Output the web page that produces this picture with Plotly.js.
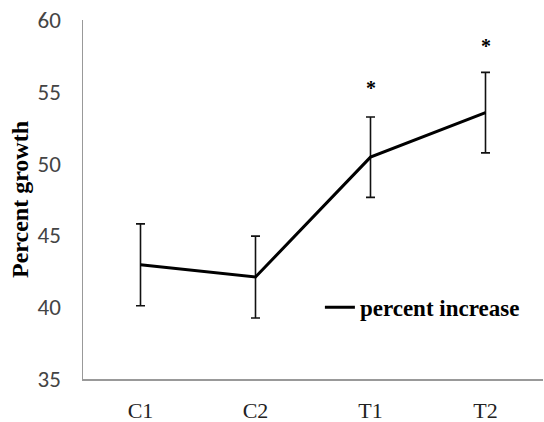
<!DOCTYPE html>
<html>
<head>
<meta charset="utf-8">
<script src="https://cdn.plot.ly/plotly-3.0.1.min.js"></script>
<style>html,body{margin:0;padding:0;background:#fff;}#chart{width:544px;height:422px;}</style>
</head>
<body>
<div id="chart"></div>
<script>
var categories = ["C1", "C2", "T1", "T2"];
var percentGrowth = [42.95, 42.1, 50.45, 53.55];
var errorValues = [2.85, 2.85, 2.8, 2.8];
var starLabels = ["", "", "*", "*"];
var starY = [null, null, 55.25, 58.2];
var yTicks = [35, 40, 45, 50, 55, 60];

var trace = {
  x: categories,
  y: percentGrowth,
  type: "scatter",
  mode: "lines",
  name: "percent increase",
  line: {color: "#000", width: 3},
  error_y: {type: "data", array: errorValues, visible: true, color: "#111", thickness: 1.6, width: 4.5}
};

var annotations = [];
for (var i = 0; i < categories.length; i++) {
  if (starLabels[i]) {
    annotations.push({x: categories[i], y: starY[i], xref: "x", yref: "y", text: "<b>" + starLabels[i] + "</b>",
      showarrow: false, font: {family: "Liberation Serif", size: 20, color: "#000"}, yanchor: "middle"});
  }
}

var layout = {
  width: 544, height: 422,
  margin: {l: 83, r: 1, t: 20, b: 43},
  paper_bgcolor: "#fff", plot_bgcolor: "#fff",
  showlegend: true,
  legend: {x: 0.515, xanchor: "left", y: 0.2, yanchor: "middle", bgcolor: "rgba(0,0,0,0)",
    font: {family: "Liberation Serif", size: 23, color: "#000", weight: "bold"}},
  xaxis: {type: "category", range: [-0.5, 3.5], showline: true, linecolor: "#999", linewidth: 1.5,
    showgrid: false, zeroline: false, ticks: "", ticklabelstandoff: 11,
    tickfont: {family: "Liberation Serif", size: 22, color: "#222"}},
  yaxis: {range: [35, 60], tickvals: yTicks, showline: true, linecolor: "#999", linewidth: 1.5,
    showgrid: false, zeroline: false, ticks: "", ticklabelstandoff: 16,
    tickfont: {family: "Carlito, Liberation Sans", size: 23, color: "#444"},
    title: {text: "<b>Percent growth</b>", standoff: 2, font: {family: "Liberation Serif", size: 24, color: "#000"}}},
  annotations: annotations
};

Plotly.newPlot("chart", [trace], layout, {staticPlot: true});
</script>
</body>
</html>
